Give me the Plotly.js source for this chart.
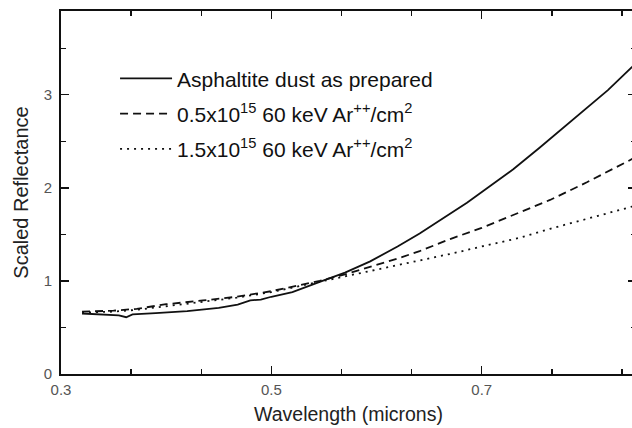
<!DOCTYPE html>
<html>
<head>
<meta charset="utf-8">
<script src="https://cdn.plot.ly/plotly-3.0.1.min.js"></script>
<style>
html,body{margin:0;padding:0;overflow:hidden;background:#fff;width:632px;height:428px;}
#chart{width:640px;height:428px;}
</style>
</head>
<body>
<div id="chart"></div>
<script>
// Wavelength (microns) and scaled reflectance
var wlPrepared = [0.32,0.34,0.355,0.362,0.368,0.39,0.42,0.45,0.468,0.48,0.49,0.50,0.52,0.546,0.57,0.594,0.62,0.641,0.66,0.686,0.708,0.73,0.755,0.775,0.793,0.82,0.843,0.85];
var rPrepared  = [0.65,0.64,0.63,0.61,0.64,0.655,0.675,0.71,0.745,0.79,0.80,0.83,0.88,0.99,1.09,1.21,1.37,1.51,1.65,1.84,2.02,2.20,2.43,2.62,2.80,3.05,3.30,3.38];

var wlLow = [0.32,0.35,0.372,0.40,0.435,0.467,0.50,0.525,0.546,0.57,0.594,0.62,0.641,0.67,0.70,0.735,0.765,0.80,0.843,0.85];
var rLow  = [0.67,0.68,0.70,0.75,0.79,0.83,0.89,0.95,1.0,1.07,1.15,1.24,1.32,1.45,1.57,1.73,1.87,2.06,2.31,2.35];

var wlHigh = [0.32,0.35,0.372,0.40,0.435,0.467,0.50,0.525,0.546,0.57,0.594,0.62,0.641,0.67,0.70,0.735,0.765,0.80,0.843,0.85];
var rHigh  = [0.66,0.67,0.69,0.73,0.78,0.82,0.88,0.94,0.99,1.05,1.11,1.17,1.22,1.29,1.37,1.46,1.56,1.67,1.80,1.82];

var seriesNames = [
  'Asphaltite dust as prepared',
  '0.5x10<sup>15</sup> 60 keV Ar<sup>++</sup>/cm<sup>2</sup>',
  '1.5x10<sup>15</sup> 60 keV Ar<sup>++</sup>/cm<sup>2</sup>'
];
var xTickVals = [0.3, 0.5, 0.7];
var yTickVals = [0, 1, 2, 3];

var font = 'Liberation Sans, Arial, sans-serif';

var traces = [
  {x: wlPrepared, y: rPrepared, name: seriesNames[0], mode: 'lines', legendgroup: 'a',
   line: {color: '#111', width: 1.8}},
  {x: wlLow, y: rLow, name: seriesNames[1], mode: 'lines', legendgroup: 'b',
   line: {color: '#111', width: 1.8, dash: '8px,5px'}},
  {x: wlHigh, y: rHigh, name: seriesNames[2], mode: 'lines', legendgroup: 'c',
   line: {color: '#111', width: 1.8, dash: '2px,5px'}}
];

var axisCommon = {
  showline: true, linecolor: '#111', linewidth: 1.8, mirror: 'ticks',
  ticks: 'inside', ticklen: 8, tickwidth: 1.4, tickcolor: '#111',
  showgrid: false, zeroline: false,
  tickfont: {family: font, size: 15, color: '#555'}
};

var layout = {
  width: 640, height: 428,
  margin: {l: 61, r: 4, t: 11, b: 54},
  paper_bgcolor: '#fff', plot_bgcolor: '#fff',
  font: {family: font, color: '#222'},
  xaxis: Object.assign({}, axisCommon, {
    range: [0.3, 0.8467], tickvals: xTickVals, ticktext: xTickVals.map(String),
    ticklabelstandoff: 1,
    minor: {tick0: 0.3, dtick: 0.2/3, ticks: 'inside', ticklen: 5, tickwidth: 1.4, tickcolor: '#111'},
    title: {text: 'Wavelength (microns)', font: {family: font, size: 19.5, color: '#222'}, standoff: 10}
  }),
  yaxis: Object.assign({}, axisCommon, {
    range: [0, 3.9], tickvals: yTickVals, ticktext: yTickVals.map(String),
    ticklabelstandoff: 4,
    minor: {tick0: 0, dtick: 0.5, ticks: 'inside', ticklen: 5, tickwidth: 1.4, tickcolor: '#111'},
    title: {text: 'Scaled Reflectance', font: {family: font, size: 20, color: '#222'}, standoff: 10}
  }),
  showlegend: true,
  legend: {
    x: 0.094, y: 0.87, xanchor: 'left', yanchor: 'top',
    bgcolor: 'rgba(0,0,0,0)', borderwidth: 0,
    font: {family: font, size: 21, color: '#111'},
    traceorder: 'grouped', tracegroupgap: 5, itemwidth: 52
  }
};

Plotly.newPlot('chart', traces, layout, {displayModeBar: false, staticPlot: true});
</script>
</body>
</html>
